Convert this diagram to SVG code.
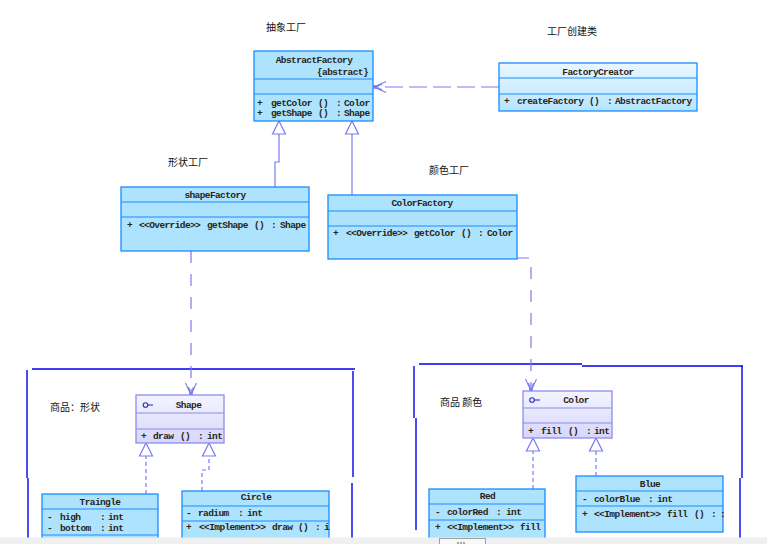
<svg xmlns="http://www.w3.org/2000/svg" width="767" height="544" viewBox="0 0 767 544">
<style>
.bg{fill:#ffffff}
.cls{fill:#ade3fd;stroke:#1a8cff;stroke-width:1.3}
.crt{fill:url(#gCreator);stroke:#1a8cff;stroke-width:1.3}
.itf{fill:url(#gIntf);stroke:#8c8cf0;stroke-width:1.3}
.dv{stroke:#1a8cff;stroke-width:1.2}
.dvi{stroke:#8c8cf0;stroke-width:1.2}
.t{font-family:"Liberation Mono","DejaVu Sans Mono",monospace;font-size:9.5px;font-weight:bold;letter-spacing:-0.6px;fill:#2a2418;white-space:pre}
.c{text-anchor:middle}
.lbl{font-family:"Noto Sans CJK SC","Noto Sans",sans-serif;font-size:10px;fill:#111}
.pkg{stroke:#0000ee;stroke-width:1.4;fill:none}
.gen{fill:none;stroke:#7b7bf0;stroke-width:1.2}
.dep{fill:none;stroke:#7b7bf0;stroke-width:1.2}
</style>
<defs>
<linearGradient id="gCreator" x1="0" y1="0" x2="0" y2="1">
<stop offset="0" stop-color="#eaf7ff"/>
<stop offset="1" stop-color="#b6e5ff"/>
</linearGradient>
<linearGradient id="gIntf" x1="0" y1="0" x2="0" y2="1">
<stop offset="0" stop-color="#f4f4ff"/>
<stop offset="1" stop-color="#d6d6fa"/>
</linearGradient>
<marker id="tri" viewBox="-14 -8 15 16" markerWidth="15" markerHeight="16" refX="0" refY="0" orient="auto" markerUnits="userSpaceOnUse">
<path d="M0,0 L-13,-6.5 L-13,6.5 Z" fill="#ffffff" stroke="#7b7bf0" stroke-width="1.2"/>
</marker>
<marker id="open" viewBox="-14 -8 16 16" markerWidth="16" markerHeight="16" refX="0" refY="0" orient="auto" markerUnits="userSpaceOnUse">
<path d="M-12,-5.5 L0,0 L-12,5.5 M-8,-2.5 L0,0 L-8,2.5" fill="none" stroke="#7b7bf0" stroke-width="1.1"/>
<rect x="-3" y="-1.8" width="3.5" height="3.6" fill="#7b7bf0"/>
</marker>
</defs>
<rect class="bg" x="0" y="0" width="767" height="544"/>

<!-- packages -->
<g id="pkgShape">
<path class="pkg" d="M32,369 H355 M27,370 V478 M28,478 V538 M353,371 V477 M352,483 V538"/>
<text class="lbl" x="50" y="411">商品：形状</text>
</g>
<g id="pkgColor">
<path class="pkg" d="M419,364 H582 M582,366 H743 M414,366 V418 M416,418 V530 M742,366 V478 M740,478 V538"/>
<text class="lbl" x="440" y="406">商品 颜色</text>
</g>

<!-- connectors -->
<g id="connectors">
<path class="gen" d="M275,187 V162 H279 V121" marker-end="url(#tri)"/>
<path class="gen" d="M352,195 V121" marker-end="url(#tri)"/>
<path class="dep" d="M499,87 H374" stroke-dasharray="18 6" marker-end="url(#open)"/>
<path class="dep" d="M191,251 V395" stroke-dasharray="12 11" marker-end="url(#open)"/>
<path class="dep" d="M517,258 H531 V391" stroke-dasharray="12 11" marker-end="url(#open)"/>
<path class="gen" d="M146,494 V443" stroke-dasharray="4 3" marker-end="url(#tri)"/>
<path class="gen" d="M202,491 V470 H209 V443" stroke-dasharray="4 3" marker-end="url(#tri)"/>
<path class="gen" d="M533,489 V438" stroke-dasharray="4 3" marker-end="url(#tri)"/>
<path class="gen" d="M596,476 V438" stroke-dasharray="4 3" marker-end="url(#tri)"/>
</g>

<!-- labels -->
<text class="lbl" x="266" y="31">抽象工厂</text>
<text class="lbl" x="547" y="35">工厂创建类</text>
<text class="lbl" x="168" y="166">形状工厂</text>
<text class="lbl" x="429" y="174">颜色工厂</text>

<g id="AbstractFactory">
<rect class="cls" x="254" y="51" width="119" height="70"/>
<line class="dv" x1="254" y1="79" x2="373" y2="79"/>
<line class="dv" x1="254" y1="94" x2="373" y2="94"/>
<text class="t c" x="314" y="63">AbstractFactory</text>
<text class="t" x="317" y="75">{abstract}</text>
<text class="t" y="106"><tspan x="257">+</tspan><tspan x="271">getColor</tspan><tspan x="318">()</tspan><tspan x="336">:</tspan><tspan x="344">Color</tspan></text>
<text class="t" y="116"><tspan x="257">+</tspan><tspan x="271">getShape</tspan><tspan x="318">()</tspan><tspan x="336">:</tspan><tspan x="344">Shape</tspan></text>
</g>

<g id="FactoryCreator">
<rect class="crt" x="499" y="63" width="198" height="48"/>
<line class="dv" x1="499" y1="78" x2="697" y2="78"/>
<line class="dv" x1="499" y1="94" x2="697" y2="94"/>
<text class="t c" x="598" y="75">FactoryCreator</text>
<text class="t" y="104"><tspan x="504">+</tspan><tspan x="517">createFactory</tspan><tspan x="589">()</tspan><tspan x="607">:</tspan><tspan x="615">AbstractFactory</tspan></text>
</g>

<g id="shapeFactory">
<rect class="cls" x="121" y="187" width="188" height="64"/>
<line class="dv" x1="121" y1="202" x2="309" y2="202"/>
<line class="dv" x1="121" y1="217" x2="309" y2="217"/>
<text class="t c" x="215" y="198">shapeFactory</text>
<text class="t" y="228"><tspan x="127">+</tspan><tspan x="139">&lt;&lt;Override&gt;&gt;</tspan><tspan x="207">getShape</tspan><tspan x="254">()</tspan><tspan x="271">:</tspan><tspan x="280">Shape</tspan></text>
</g>

<g id="ColorFactory">
<rect class="cls" x="328" y="195" width="189" height="64"/>
<line class="dv" x1="328" y1="211" x2="517" y2="211"/>
<line class="dv" x1="328" y1="226" x2="517" y2="226"/>
<text class="t c" x="422" y="206">ColorFactory</text>
<text class="t" y="236"><tspan x="333">+</tspan><tspan x="346">&lt;&lt;Override&gt;&gt;</tspan><tspan x="414">getColor</tspan><tspan x="461">()</tspan><tspan x="478">:</tspan><tspan x="487">Color</tspan></text>
</g>

<g id="Shape">
<rect class="itf" x="136" y="395" width="88" height="48"/>
<line class="dvi" x1="136" y1="413" x2="224" y2="413"/>
<line class="dvi" x1="136" y1="429" x2="224" y2="429"/>
<circle cx="145.5" cy="405" r="2.3" fill="none" stroke="#3030c0" stroke-width="1.1"/>
<line x1="148" y1="405" x2="153" y2="405" stroke="#3030c0" stroke-width="1.1"/>
<text class="t c" x="188.5" y="408">Shape</text>
<text class="t" y="439"><tspan x="141">+</tspan><tspan x="153">draw</tspan><tspan x="180">()</tspan><tspan x="198">:</tspan><tspan x="207">int</tspan></text>
</g>

<g id="Color">
<rect class="itf" x="523" y="391" width="89" height="47"/>
<line class="dvi" x1="523" y1="408" x2="612" y2="408"/>
<line class="dvi" x1="523" y1="423" x2="612" y2="423"/>
<circle cx="532" cy="400" r="2.3" fill="none" stroke="#3030c0" stroke-width="1.1"/>
<line x1="534.5" y1="400" x2="540" y2="400" stroke="#3030c0" stroke-width="1.1"/>
<text class="t c" x="576" y="403">Color</text>
<text class="t" y="434"><tspan x="528">+</tspan><tspan x="541">fill</tspan><tspan x="568">()</tspan><tspan x="586">:</tspan><tspan x="594">int</tspan></text>
</g>

<g id="Traingle">
<rect class="cls" x="42" y="494" width="116" height="55"/>
<line class="dv" x1="42" y1="509" x2="158" y2="509"/>
<line class="dv" x1="42" y1="535" x2="158" y2="535"/>
<text class="t c" x="100" y="505">Traingle</text>
<text class="t" y="520"><tspan x="47">-</tspan><tspan x="60">high</tspan><tspan x="100">:</tspan><tspan x="108">int</tspan></text>
<text class="t" y="531"><tspan x="47">-</tspan><tspan x="60">bottom</tspan><tspan x="100">:</tspan><tspan x="108">int</tspan></text>
</g>

<g id="Circle">
<rect class="cls" x="182" y="491" width="147" height="58"/>
<line class="dv" x1="182" y1="506" x2="329" y2="506"/>
<line class="dv" x1="182" y1="521" x2="329" y2="521"/>
<text class="t c" x="256" y="500">Circle</text>
<text class="t" y="516"><tspan x="186">-</tspan><tspan x="198">radium</tspan><tspan x="238">:</tspan><tspan x="247">int</tspan></text>
<text class="t" y="530"><tspan x="186">+</tspan><tspan x="199">&lt;&lt;Implement&gt;&gt;</tspan><tspan x="272">draw</tspan><tspan x="298">()</tspan><tspan x="315">:</tspan><tspan x="324">i</tspan></text>
</g>

<g id="Red">
<rect class="cls" x="429" y="489" width="116" height="60"/>
<line class="dv" x1="429" y1="504" x2="545" y2="504"/>
<line class="dv" x1="429" y1="520" x2="545" y2="520"/>
<text class="t c" x="487.5" y="499">Red</text>
<text class="t" y="515"><tspan x="435">-</tspan><tspan x="447">colorRed</tspan><tspan x="496">:</tspan><tspan x="506">int</tspan></text>
<text class="t" y="530"><tspan x="435">+</tspan><tspan x="447">&lt;&lt;Implement&gt;&gt;</tspan><tspan x="520">fill</tspan></text>
</g>

<g id="Blue">
<rect class="cls" x="576" y="476" width="147" height="56"/>
<line class="dv" x1="576" y1="491" x2="723" y2="491"/>
<line class="dv" x1="576" y1="506" x2="723" y2="506"/>
<text class="t c" x="650" y="487">Blue</text>
<text class="t" y="502"><tspan x="582">-</tspan><tspan x="594">colorBlue</tspan><tspan x="648">:</tspan><tspan x="657">int</tspan></text>
<text class="t" y="517"><tspan x="582">+</tspan><tspan x="594">&lt;&lt;Implement&gt;&gt;</tspan><tspan x="667">fill</tspan><tspan x="694">()</tspan><tspan x="711">:</tspan><tspan x="720">:</tspan></text>
</g>

<!-- bottom scrollbar strip -->
<g id="scrollbar">
<rect x="0" y="537.5" width="767" height="6.5" fill="#f0f0f0"/>
<rect x="439.5" y="538.5" width="46" height="6" fill="#f8f8f8" stroke="#a0a0a0" stroke-width="1"/>
<path d="M458,542 V544 M461,542 V544 M464,542 V544" stroke="#555" stroke-width="1"/>
</g>
</svg>
